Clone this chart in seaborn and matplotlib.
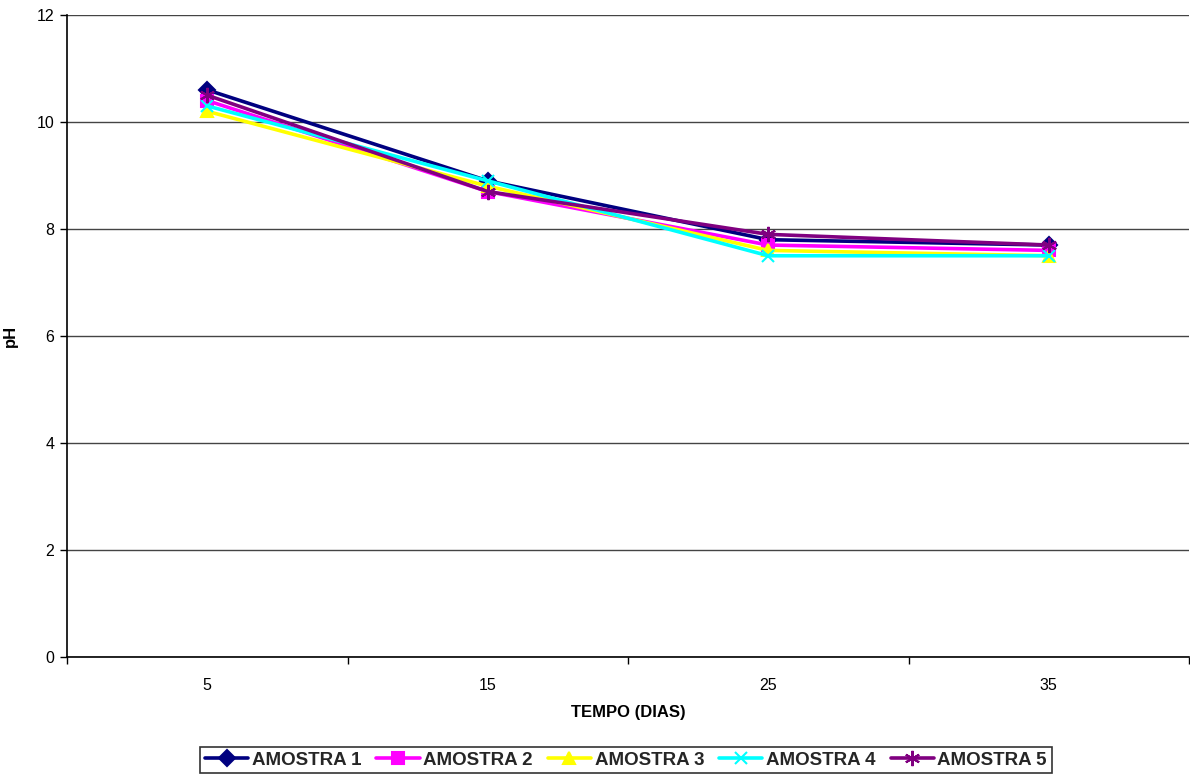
import numpy as np
import pandas as pd
import matplotlib
matplotlib.use("Agg")
import matplotlib.pyplot as plt
import seaborn as sns

# data
dias = ["5", "15", "25", "35"]
amostra_1 = [10.6, 8.9, 7.8, 7.7]
amostra_2 = [10.4, 8.7, 7.7, 7.6]
amostra_3 = [10.2, 8.8, 7.6, 7.5]
amostra_4 = [10.3, 8.9, 7.5, 7.5]
amostra_5 = [10.5, 8.7, 7.9, 7.7]

series_names = ["AMOSTRA 1", "AMOSTRA 2", "AMOSTRA 3", "AMOSTRA 4", "AMOSTRA 5"]
series_values = [amostra_1, amostra_2, amostra_3, amostra_4, amostra_5]
colors = ["#000080", "#FF00FF", "#FFFF00", "#00FFFF", "#800080"]
markers = ["D", "s", "^", "x", (6, 2, 0)]
msizes = [8, 8, 9, 9, 11]

sns.set_theme(style="white")
plt.rcParams["font.family"] = ["Liberation Sans", "DejaVu Sans"]

fig = plt.figure(figsize=(11.9, 7.78), dpi=100)
ax = fig.add_axes([67 / 1190, 121 / 778, 1122 / 1190, 642 / 778])

for name, vals, c, m, ms in zip(series_names, series_values, colors, markers, msizes):
    df = pd.DataFrame({"dias": dias, "ph": vals})
    sns.lineplot(data=df, x="dias", y="ph", sort=False, ax=ax, color=c,
                 linewidth=2.6, marker=m, markersize=ms, markeredgecolor=c,
                 markeredgewidth=1.5, label=name)

ax.set_xlim(-0.5, len(dias) - 0.5)
ax.set_ylim(0, 12)
ax.set_yticks(np.arange(0, 13, 2))
ax.set_xticks(range(len(dias)))
ax.set_xticklabels(dias)
ax.set_xticks(np.arange(-0.5, len(dias), 1.0), minor=True)
ax.tick_params(axis="x", which="major", length=0, pad=15, labelsize=11.5, colors="black")
ax.tick_params(axis="x", which="minor", length=5, width=1, direction="out", bottom=True, color="black")
ax.tick_params(axis="y", which="major", length=5, width=1, direction="out", left=True,
               labelsize=11.5, pad=4, colors="black")

ax.grid(axis="y", color="#444444", linewidth=1)
ax.grid(axis="x", visible=False)
for s in ["top", "right"]:
    ax.spines[s].set_visible(False)
for s in ["left", "bottom"]:
    ax.spines[s].set_color("black")
    ax.spines[s].set_linewidth(1.2)

ax.set_xlabel("TEMPO (DIAS)", fontsize=12, fontweight="bold", labelpad=9, color="black")
ax.set_ylabel("pH", fontsize=12, fontweight="bold", color="black")
ax.yaxis.set_label_coords(-49 / 1122, 0.5)

handles, labels = ax.get_legend_handles_labels()
ax.get_legend().remove()
leg = fig.legend(handles, labels, loc="center", bbox_to_anchor=(626 / 1190, 1 - 760 / 778),
                 ncol=5, frameon=True, fancybox=False, edgecolor="black",
                 prop={"weight": "bold", "size": 13.5}, handlelength=2.3,
                 handletextpad=0.2, columnspacing=0.8, borderpad=0.25,
                 borderaxespad=0)
leg.get_frame().set_linewidth(1.2)

fig.savefig("out.png", dpi=100)
